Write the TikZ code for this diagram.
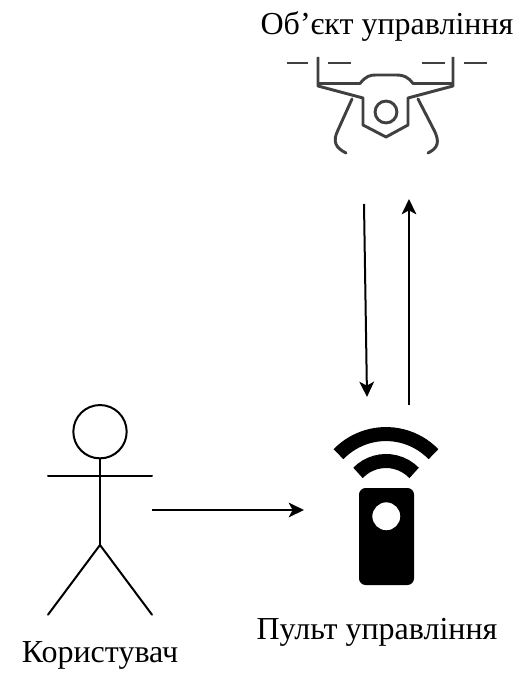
\documentclass[tikz,border=0pt]{standalone}
\usepackage{fontspec}
\setmainfont{Liberation Serif}
\usetikzlibrary{arrows.meta,positioning}

\begin{document}
\begin{tikzpicture}[
  x=0.75pt, y=-0.75pt,
  node distance=5mm,
  iconbox/.style={inner sep=0pt, outer sep=0pt},
  lbl/.style={font=\fontsize{24}{28}\selectfont, inner sep=0pt},
  arr/.style={-{Stealth[length=11.5pt, width=11pt, inset=3pt]}, line width=1.5pt},
  fig/.style={line width=1.5pt, line cap=round},
  craft/.style={line width=2.2pt, draw=craftgrey, line join=round},
  wave/.style={line width=10.5pt}
]
\definecolor{craftgrey}{HTML}{404040}
\useasboundingbox (0,0) rectangle (526,673);
\node[iconbox, minimum width=78pt, minimum height=157pt] (actor) at (100,510) {};
\node[iconbox, minimum width=123pt, minimum height=157pt, right=114pt of actor] (remote) {};
\node[iconbox, minimum width=152pt, minimum height=74pt] (drone) at (386,105) {};
\node[lbl] (droneLbl) at (387,27) {Об'єкт управління};
\node[lbl] (remoteLbl) at (377,632) {Пульт управління};
\node[lbl] (actorLbl) at (100,655) {Користувач};
\coordinate (downA) at (364,204);
\coordinate (downB) at (367,397);
\coordinate (upA) at (409,405);
\coordinate (upB) at (409,199);
\draw[fig] (100,431.7) circle[radius=20pt];
\draw[fig] (100,458.4) -- (100,545);
\draw[fig] (48,475.7) -- (152,475.7);
\draw[fig] (48,614.7) -- (100,545) -- (152,614.7);
\draw[craft] (287,63) -- (308,63);
\draw[craft] (328,63) -- (351,63);
\draw[craft] (422,63) -- (445,63);
\draw[craft] (464,63) -- (487,63);
\draw[craft] (318,57) -- (318,86) -- (363,98) -- (363,125) -- (386,137) -- (408,125) -- (408,98) -- (453,86) -- (453,57);
\draw[craft] (318,83.5) -- (360,83.5) .. controls (366,76) and (370,75) .. (376,75) -- (396,75) .. controls (404,75) and (408,77) .. (413,83.5) -- (453,83.5);
\draw[craft] (386,112) circle[radius=8.2pt];
\draw[craft, line cap=round] (352,99) -- (338,130) .. controls (332,142) and (336,148) .. (346,153);
\draw[craft, line cap=round] (418,99) -- (434,130) .. controls (440,142) and (438,148) .. (428,153);
\draw[wave] (338.5,454.2) arc[start angle=136, end angle=44, radius=49.5pt];
\draw[wave] (358,472.9) arc[start angle=136, end angle=44, radius=29.25pt];
\fill[rounded corners=5pt, even odd rule] (359,488) rectangle (414,585) (386.3,516.3) circle[radius=10.5pt];
\draw[arr] (actor.east) -- (remote.west);
\draw[arr] (downA) -- (downB);
\draw[arr] (upA) -- (upB);
\end{tikzpicture}
\end{document}
